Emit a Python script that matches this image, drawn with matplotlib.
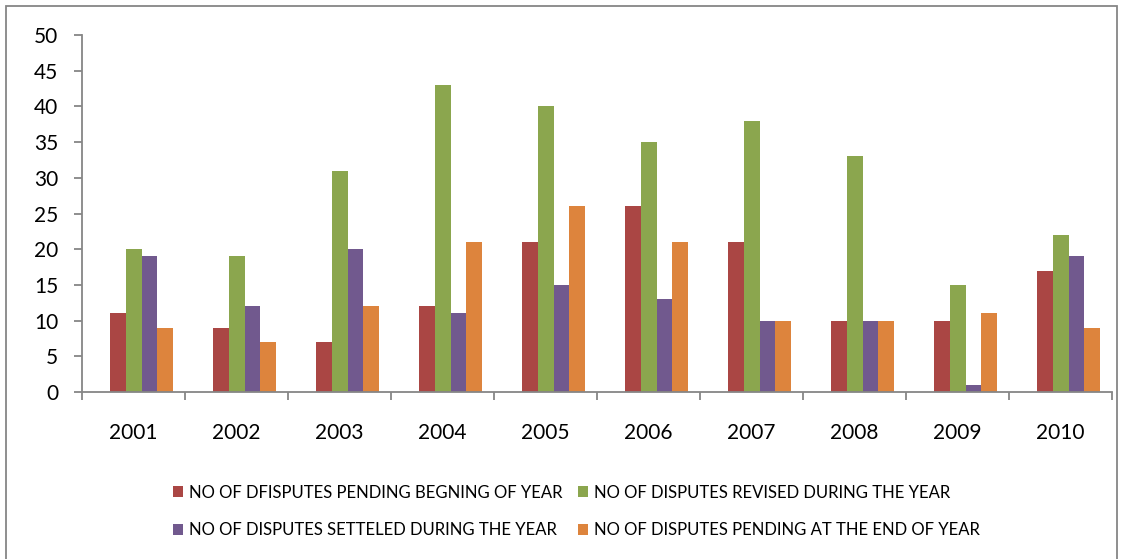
import numpy as np
import matplotlib.pyplot as plt
from matplotlib.patches import Rectangle

years = ['2001', '2002', '2003', '2004', '2005', '2006', '2007', '2008', '2009', '2010']
pending_begin = [11, 9, 7, 12, 21, 26, 21, 10, 10, 17]
revised = [20, 19, 31, 43, 40, 35, 38, 33, 15, 22]
settled = [19, 12, 20, 11, 15, 13, 10, 10, 1, 19]
pending_end = [9, 7, 12, 21, 26, 21, 10, 10, 11, 9]

series_names = [
    'NO OF DFISPUTES PENDING BEGNING OF YEAR',
    'NO OF DISPUTES REVISED DURING THE YEAR',
    'NO OF DISPUTES SETTELED DURING THE YEAR',
    'NO OF DISPUTES PENDING AT THE END OF YEAR',
]
colors = ['#AA4644', '#8BA64E', '#71598E', '#DD843D']

plt.rcParams['font.family'] = ['Lato', 'DejaVu Sans']

fig = plt.figure(figsize=(11.28, 5.59), dpi=100)
ax = fig.add_axes([0.0727, 0.2987, 0.913, 0.6387])

x = np.arange(len(years))
w = 0.153
shift = 0.08
bars = []
data = [pending_begin, revised, settled, pending_end]
for i, (vals, name, c) in enumerate(zip(data, series_names, colors)):
    b = ax.bar(x + shift + (i - 1.5) * w, vals, w, color=c, label=name, linewidth=0)
    bars.append(b)

ax.set_xlim(-0.5, len(years) - 0.5)
ax.set_ylim(0, 50)
ax.set_yticks(range(0, 51, 5))
ax.set_xticks(x)
ax.set_xticklabels(years)
ax.set_xticks(np.arange(-0.5, len(years)), minor=True)
ax.tick_params(axis='x', which='major', length=0, pad=22, labelsize=15)
ax.tick_params(axis='x', which='minor', length=6, width=1.3, color='#868686', direction='out')
ax.tick_params(axis='y', length=6, width=1.3, color='#868686', labelsize=15, pad=11)

for s in ['top', 'right']:
    ax.spines[s].set_visible(False)
for s in ['left', 'bottom']:
    ax.spines[s].set_color('#868686')
    ax.spines[s].set_linewidth(1.3)

# outer chart border
fig.patches.append(Rectangle((6 / 1128, -0.02), 1111 / 1128, 1 - 6 / 559 + 0.02,
                             transform=fig.transFigure, fill=False,
                             edgecolor='#868686', linewidth=1.3))

# legend fills row by row: pending/revised on top, settled/pending-end below
order = [0, 2, 1, 3]
fig.legend([bars[i] for i in order], [series_names[i] for i in order],
           loc='center', bbox_to_anchor=(0.511, 0.085), ncol=2, frameon=False,
           fontsize=12, handlelength=0.6, handleheight=0.6, handletextpad=0.4,
           columnspacing=0.9, labelspacing=1.3)

fig.savefig('out.png', dpi=100)
